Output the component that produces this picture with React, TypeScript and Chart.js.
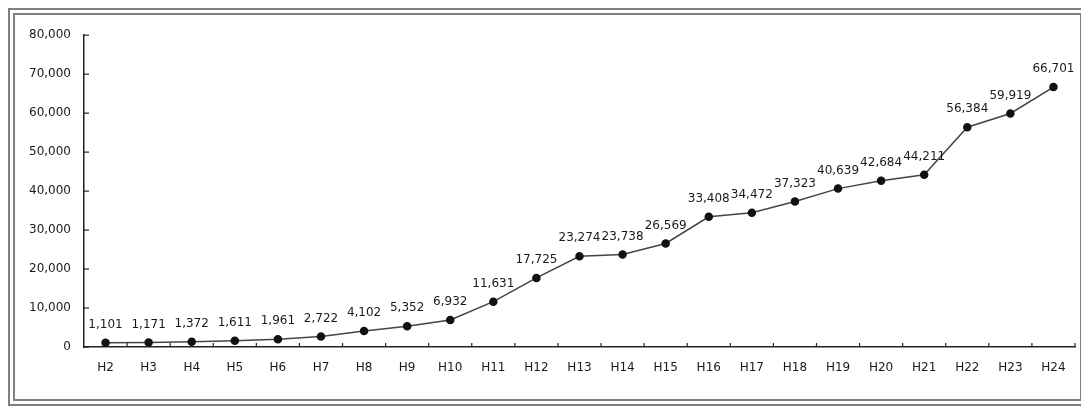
import React, { useEffect, useRef } from "react";
import { Chart, registerables } from "chart.js";

Chart.register(...registerables);

const categories = ["H2","H3","H4","H5","H6","H7","H8","H9","H10","H11","H12","H13","H14","H15","H16","H17","H18","H19","H20","H21","H22","H23","H24"];
const values = [1101,1171,1372,1611,1961,2722,4102,5352,6932,11631,17725,23274,23738,26569,33408,34472,37323,40639,42684,44211,56384,59919,66701];
const yMax = 80000;
const yStep = 10000;

const FONT = "'DejaVu Sans', sans-serif";

const tickPlugin = {
  id: "innerTicks",
  afterDatasetsDraw(chart: any) {
    const ctx = chart.ctx;
    const x = chart.scales.x;
    const y = chart.scales.y;
    const area = chart.chartArea;
    ctx.save();
    ctx.strokeStyle = "#222";
    ctx.lineWidth = 1.2;
    y.ticks.forEach((t: any) => {
      const py = y.getPixelForValue(t.value);
      ctx.beginPath();
      ctx.moveTo(area.left, py);
      ctx.lineTo(area.left + 5, py);
      ctx.stroke();
    });
    for (let i = 0; i < categories.length; i++) {
      const p0 = x.getPixelForValue(i);
      const p1 = i + 1 < categories.length ? x.getPixelForValue(i + 1) : p0 + (p0 - x.getPixelForValue(i - 1));
      const bx = (p0 + p1) / 2;
      ctx.beginPath();
      ctx.moveTo(bx, area.bottom);
      ctx.lineTo(bx, area.bottom - 4);
      ctx.stroke();
    }
    const meta = chart.getDatasetMeta(0);
    ctx.fillStyle = "#1a1a1a";
    ctx.font = `12px ${FONT}`;
    ctx.textAlign = "center";
    ctx.textBaseline = "middle";
    meta.data.forEach((pt: any, i: number) => {
      ctx.fillText(values[i].toLocaleString("en-US"), pt.x, pt.y - 18);
    });
    ctx.restore();
  },
};

export default function App() {
  const ref = useRef<HTMLCanvasElement>(null);
  useEffect(() => {
    if (!ref.current) return;
    const chart = new Chart(ref.current, {
      type: "line",
      data: {
        labels: categories,
        datasets: [
          {
            data: values,
            borderColor: "#444",
            borderWidth: 1.5,
            pointBackgroundColor: "#111",
            pointBorderColor: "#111",
            pointRadius: 3.5,
            pointHoverRadius: 3.5,
            tension: 0,
          },
        ],
      },
      options: {
        responsive: false,
        animation: false,
        layout: { padding: { top: 13, right: 0, left: 0, bottom: 0 } },
        plugins: { legend: { display: false }, tooltip: { enabled: false } },
        scales: {
          x: {
            offset: true,
            grid: { display: false, drawTicks: false },
            border: { display: true, color: "#222", width: 1.5 },
            ticks: { color: "#1a1a1a", font: { family: FONT, size: 12 }, padding: 14, maxRotation: 0, autoSkip: false },
            afterFit: (s: any) => { s.height = 52; },
          },
          y: {
            min: 0,
            max: yMax,
            grid: { display: false, drawTicks: false },
            border: { display: true, color: "#222", width: 1.5 },
            ticks: {
              stepSize: yStep,
              color: "#1a1a1a",
              font: { family: FONT, size: 12 },
              padding: 13,
              callback: (v: any) => Number(v).toLocaleString("en-US"),
            },
            afterFit: (s: any) => { s.width = 69; },
          },
        },
      },
      plugins: [tickPlugin],
    });
    return () => chart.destroy();
  }, []);
  return (
    <div style={{ width: 1065, height: 384, border: "7px double #808080", background: "#fff" }}>
      <canvas ref={ref} width={1065} height={384} style={{ display: "block" }} />
    </div>
  );
}
